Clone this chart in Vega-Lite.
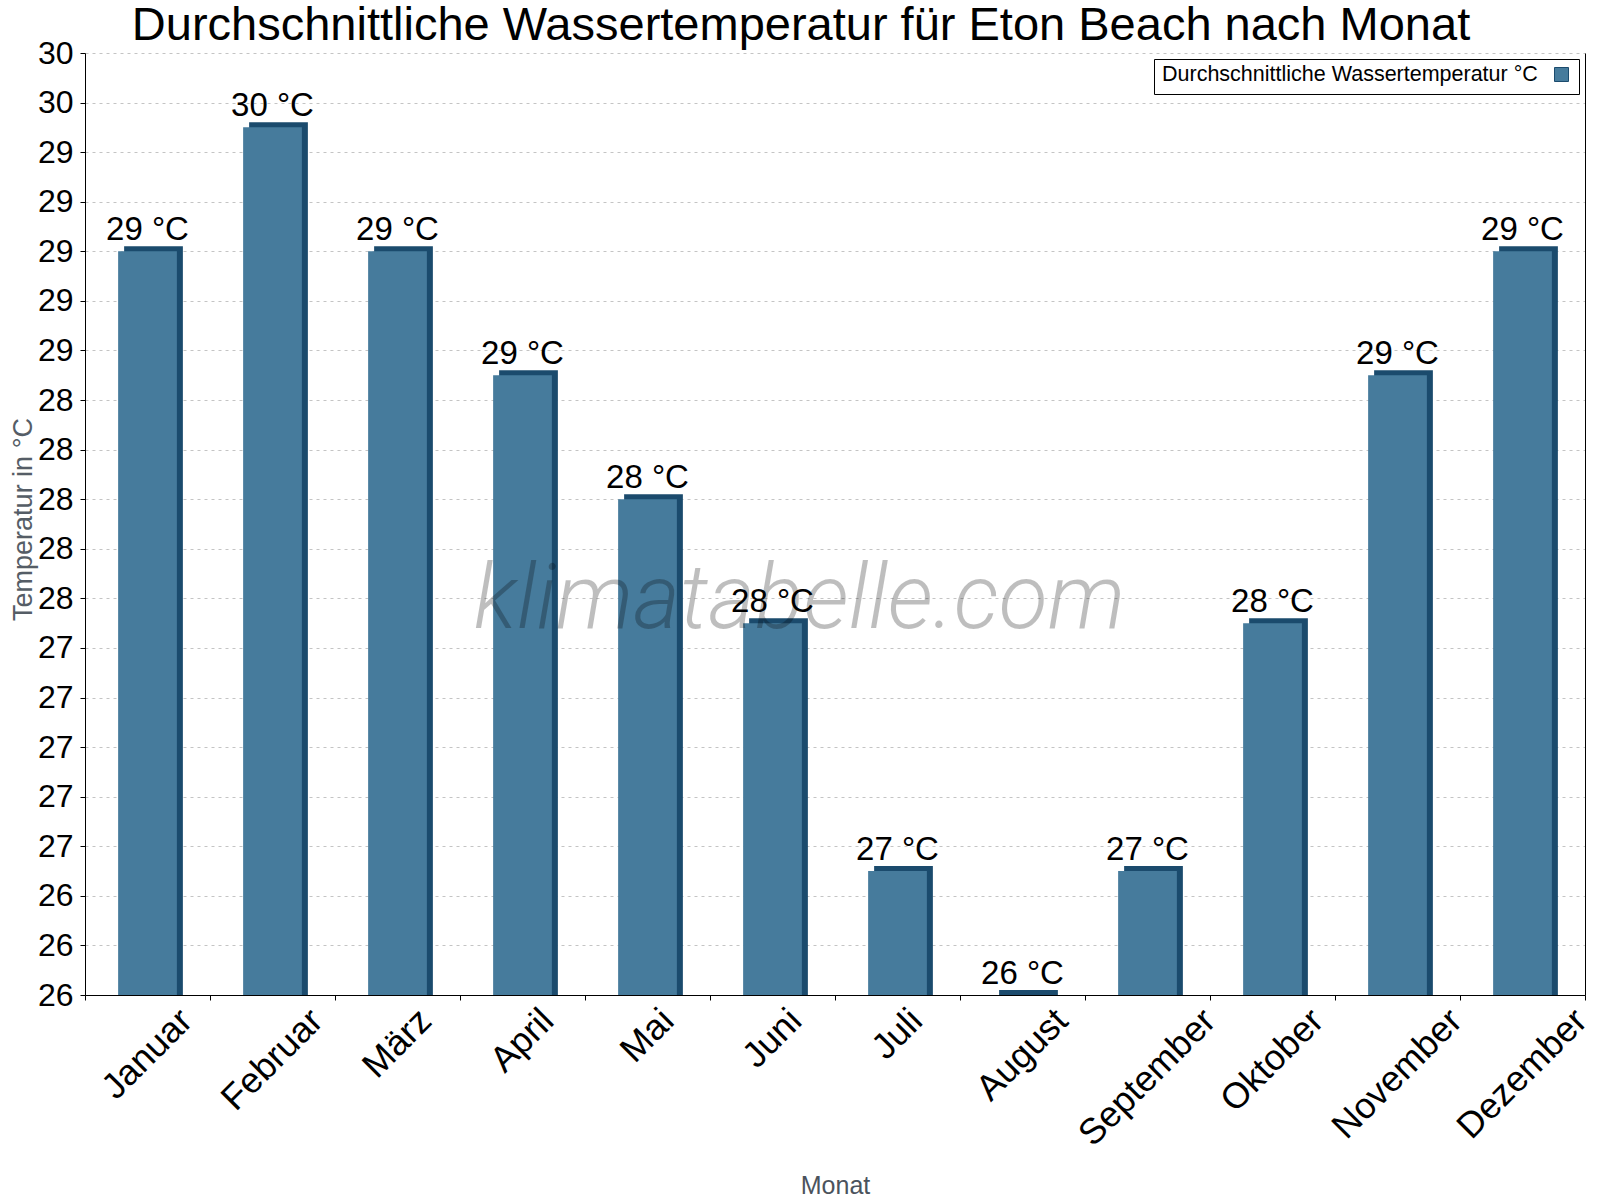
{
  "$schema": "https://vega.github.io/schema/vega-lite/v6.json",
  "width": 1500,
  "height": 942,
  "autosize": {"type": "none"},
  "padding": {"left": 85, "top": 53, "right": 15, "bottom": 205},
  "background": "white",
  "config": {"view": {"stroke": null}, "font": "Liberation Sans"},
  "title": {
    "text": "Durchschnittliche Wassertemperatur für Eton Beach nach Monat",
    "fontSize": 47,
    "font": "Liberation Sans",
    "fontWeight": "normal",
    "color": "black",
    "anchor": "middle",
    "frame": "group",
    "dx": -34,
    "baseline": "alphabetic",
    "offset": -50
  },
  "data": {
    "values": [
      {"Monat": "Januar", "temp": 29.0, "label": "29 °C"},
      {"Monat": "Februar", "temp": 29.5, "label": "30 °C"},
      {"Monat": "März", "temp": 29.0, "label": "29 °C"},
      {"Monat": "April", "temp": 28.5, "label": "29 °C"},
      {"Monat": "Mai", "temp": 28.0, "label": "28 °C"},
      {"Monat": "Juni", "temp": 27.5, "label": "28 °C"},
      {"Monat": "Juli", "temp": 26.5, "label": "27 °C"},
      {"Monat": "August", "temp": 26.0, "label": "26 °C"},
      {"Monat": "September", "temp": 26.5, "label": "27 °C"},
      {"Monat": "Oktober", "temp": 27.5, "label": "28 °C"},
      {"Monat": "November", "temp": 28.5, "label": "29 °C"},
      {"Monat": "Dezember", "temp": 29.0, "label": "29 °C"}
    ]
  },
  "layer": [
    {
      "layer": [
        {
          "mark": {"type": "bar", "width": {"band": 0.47}, "color": "#1b4b6d", "xOffset": 6, "yOffset": -5},
          "encoding": {
            "x": {
              "field": "Monat",
              "type": "nominal",
              "scale": {
                "domain": ["Januar", "Februar", "März", "April", "Mai", "Juni", "Juli", "August", "September", "Oktober", "November", "Dezember"],
                "paddingInner": 0,
                "paddingOuter": 0
              },
              "axis": {
                "title": "Monat",
                "labels": false,
                "tickBand": "extent",
                "tickSize": 5,
                "tickColor": "black",
                "domainColor": "black",
                "grid": false,
                "titleFontSize": 25,
                "titleFont": "Liberation Sans",
                "titleFontWeight": "normal",
                "titleColor": "#4b535d",
                "titleBaseline": "alphabetic",
                "titleY": 198
              }
            },
            "y": {
              "field": "temp",
              "type": "quantitative",
              "scale": {"domain": [26, 29.8], "nice": false, "zero": false},
              "axis": {
                "title": "Temperatur in °C",
                "values": [26, 26.2, 26.4, 26.6, 26.8, 27, 27.2, 27.4, 27.6, 27.8, 28, 28.2, 28.4, 28.6, 28.8, 29, 29.2, 29.4, 29.6, 29.8],
                "format": ".0f",
                "labelFontSize": 32,
                "labelFont": "Liberation Sans",
                "labelColor": "black",
                "labelPadding": 7,
                "labelOverlap": false,
                "labelFlush": false,
                "tickSize": 5,
                "tickColor": "black",
                "domainColor": "black",
                "gridColor": "#c4c4c4",
                "gridDash": [3, 4],
                "titleFontSize": 27,
                "titleFont": "Liberation Sans",
                "titleFontWeight": "normal",
                "titleColor": "#555d66",
                "titleBaseline": "alphabetic",
                "titleX": -54,
                "titleY": 466
              }
            },
            "y2": {"datum": 26}
          }
        },
        {
          "mark": {"type": "bar", "width": {"band": 0.47}},
          "encoding": {
            "x": {"field": "Monat", "type": "nominal"},
            "y": {"field": "temp", "type": "quantitative"},
            "y2": {"datum": 26},
            "color": {
              "datum": "Durchschnittliche Wassertemperatur °C",
              "type": "nominal",
              "scale": {"range": ["#467b9c"]},
              "legend": {
                "title": "Durchschnittliche Wassertemperatur °C",
                "titleOrient": "left",
                "titleLimit": 1000,
                "orient": "top-right",
                "offset": 6,
                "labelExpr": "''",
                "labelOffset": 0,
                "symbolType": "square",
                "symbolSize": 196,
                "symbolStrokeColor": "#1b4b6d",
                "symbolStrokeWidth": 1,
                "symbolOpacity": 1,
                "strokeColor": "black",
                "fillColor": "white",
                "padding": 8,
                "titleFontSize": 21.5,
                "titleFontWeight": "normal",
                "titleColor": "black",
                "titleFont": "Liberation Sans",
                "titlePadding": 16
              }
            }
          }
        },
        {
          "mark": {"type": "text", "fontSize": 33, "font": "Liberation Sans", "color": "black", "baseline": "alphabetic", "dy": -11},
          "encoding": {
            "x": {"field": "Monat", "type": "nominal"},
            "y": {"field": "temp", "type": "quantitative"},
            "text": {"field": "label"}
          }
        },
        {
          "mark": {
            "type": "text",
            "fontSize": 36,
            "font": "Liberation Sans",
            "color": "black",
            "angle": 315,
            "align": "center",
            "baseline": "middle",
            "dx": {"expr": "-(14.4 + 9.0 * [3.057, 3.501, 2.222, 2.0, 1.611, 1.834, 1.5, 3.113, 4.891, 3.557, 4.612, 4.612][indexof(['Januar', 'Februar', 'März', 'April', 'Mai', 'Juni', 'Juli', 'August', 'September', 'Oktober', 'November', 'Dezember'], datum.Monat)])"},
            "dy": {"expr": "14.4 + 9.0 * [3.057, 3.501, 2.222, 2.0, 1.611, 1.834, 1.5, 3.113, 4.891, 3.557, 4.612, 4.612][indexof(['Januar', 'Februar', 'März', 'April', 'Mai', 'Juni', 'Juli', 'August', 'September', 'Oktober', 'November', 'Dezember'], datum.Monat)]"}
          },
          "encoding": {
            "x": {"field": "Monat", "type": "nominal"},
            "y": {"datum": 26},
            "text": {"field": "Monat"}
          }
        },
        {
          "data": {"values": [{"wm": "klimatabelle.com"}]},
          "mark": {"type": "text", "font": "Roboto", "fontStyle": "italic", "fontWeight": 300, "fontSize": 90, "color": "black", "opacity": 0.25, "baseline": "alphabetic", "align": "center"},
          "encoding": {
            "x": {"datum": "Juni", "bandPosition": 0.716},
            "y": {"datum": 27.48},
            "text": {"field": "wm"}
          }
        }
      ]
    },
    {
      "mark": {"type": "point", "opacity": 0},
      "encoding": {
        "y": {
          "field": "temp",
          "type": "quantitative",
          "axis": {"orient": "right", "labels": false, "ticks": false, "grid": false, "title": null, "domainColor": "black"}
        }
      }
    }
  ],
  "resolve": {"axis": {"y": "independent"}}
}
